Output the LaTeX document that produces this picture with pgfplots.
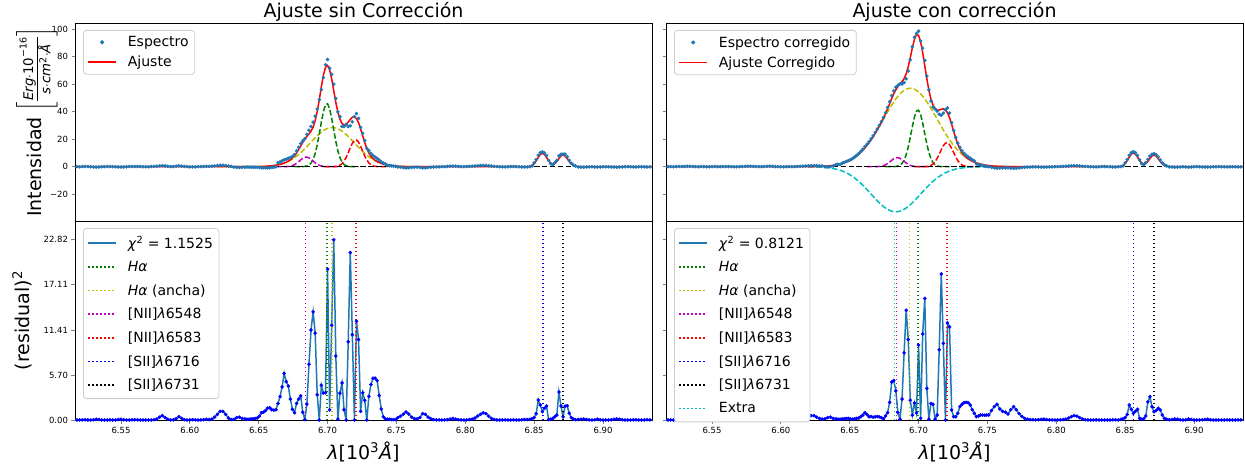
\RequirePackage{fix-cm}
\documentclass[border=0pt]{standalone}
\usepackage{amsmath}
\usepackage{fontspec}
\setmainfont{DejaVu Sans}
\usepackage{pgfplots}
\usepackage{pgfplotstable}
\pgfplotsset{compat=1.18}

\definecolor{C0}{HTML}{1F77B4}
\definecolor{mplg}{rgb}{0,0.5,0}
\definecolor{mply}{rgb}{0.75,0.75,0}
\definecolor{mplm}{rgb}{0.75,0,0.75}
\definecolor{mplc}{rgb}{0,0.75,0.75}
\definecolor{mplr}{rgb}{1,0,0}
\definecolor{mplb}{rgb}{0,0,1}
\definecolor{mplk}{rgb}{0,0,0}
\definecolor{legframe}{rgb}{0.8,0.8,0.8}

% spectrum, corrected spectrum, squared residuals and total fits
\pgfplotstableread{
x sL sR rL rR fL fR
6.516 0.10 0.10 0.01 0.01 0 0
6.518 0.05 0.05 0.00 0.00 0 0
6.520 -0.10 0.08 0.01 0.01 0 0
6.522 0.15 -0.05 0.02 0.00 0 0
6.524 0.20 0.10 0.04 0.01 0 0
6.526 0.10 0.15 0.01 0.02 0 0
6.528 -0.05 0.10 0.00 0.01 0 0
6.530 -0.20 0.20 0.04 0.04 0 0
6.532 -0.30 0.30 0.09 0.09 0 0
6.534 -0.25 0.25 0.06 0.06 0 0
6.536 -0.10 0.15 0.01 0.02 0 0
6.538 0.05 0.05 0.00 0.00 0 0
6.540 0.10 -0.05 0.01 0.00 0 0
6.542 0.15 0.10 0.02 0.01 0 0
6.544 0.05 0.05 0.00 0.00 0 0
6.546 -0.10 -0.10 0.01 0.01 0 0
6.548 -0.25 -0.05 0.06 0.00 0 0
6.550 -0.30 0.05 0.09 0.00 0 0
6.552 -0.20 0.10 0.04 0.01 0 0
6.554 0.00 0.05 0.00 0.00 0 0
6.556 0.10 0.05 0.01 0.00 0 0
6.558 0.15 0.10 0.02 0.01 0 0
6.560 0.20 0.15 0.04 0.02 0 0
6.562 0.15 0.10 0.02 0.01 0 0
6.564 0.10 0.05 0.01 0.00 0 0
6.566 0.00 0.00 0.00 0.00 0 0
6.568 -0.10 -0.05 0.01 0.00 0 0
6.570 -0.05 0.05 0.00 0.00 0 0
6.572 0.10 0.15 0.01 0.02 0 0
6.574 0.20 0.25 0.04 0.06 0 0
6.576 0.35 0.30 0.12 0.09 0 0
6.578 0.60 0.35 0.36 0.12 0 0
6.580 0.75 0.25 0.56 0.06 0 0
6.582 0.55 0.15 0.30 0.02 0 0
6.584 0.30 0.10 0.09 0.01 0 0
6.586 0.10 0.05 0.01 0.00 0 0
6.588 0.15 0.15 0.02 0.02 0 0
6.590 0.40 0.30 0.16 0.09 0 0
6.592 0.65 0.35 0.42 0.12 0 0
6.594 0.45 0.25 0.20 0.06 0 0
6.596 0.20 0.10 0.04 0.01 0 0
6.598 0.05 0.05 0.00 0.00 0 0
6.600 -0.10 -0.05 0.01 0.00 0 0
6.602 -0.20 -0.10 0.04 0.01 0 0
6.604 -0.15 0.05 0.02 0.00 0 0
6.606 0.00 0.10 0.00 0.01 0 0
6.608 0.10 0.05 0.01 0.00 0 0
6.610 0.20 0.10 0.04 0.01 0 0
6.612 0.30 0.20 0.09 0.04 0 0
6.614 0.25 0.26 0.06 0.06 0 0.01
6.616 0.35 0.37 0.12 0.12 0 0.02
6.618 0.60 0.53 0.36 0.25 0 0.03
6.620 0.85 0.69 0.72 0.42 0 0.04
6.622 1.05 0.81 1.10 0.56 0 0.06
6.624 1.05 0.84 1.10 0.56 0 0.09
6.626 0.85 0.73 0.72 0.36 0 0.13
6.628 0.50 0.64 0.25 0.20 0 0.19
6.630 0.25 0.61 0.06 0.12 0 0.26
6.632 -0.30 -0.04 0.09 0.16 0 0.36
6.634 -0.55 -0.05 0.30 0.30 0 0.50
6.636 -0.60 0.08 0.36 0.36 0 0.68
6.638 -0.45 0.47 0.20 0.20 0 0.92
6.6400 -0.38 1.62 0.15 0.15 0.01 1.23
6.6415 -0.30 1.84 0.10 0.10 0.02 1.52
6.6430 -0.30 1.54 0.10 0.10 0.02 1.86
6.6445 -0.36 2.66 0.15 0.15 0.03 2.27
6.6460 -0.35 3.14 0.15 0.15 0.04 2.75
6.6475 -0.39 3.77 0.20 0.20 0.06 3.32
6.6490 -0.41 4.42 0.25 0.20 0.09 3.97
6.6505 -0.59 5.12 0.50 0.15 0.12 4.73
6.6520 -0.80 5.92 0.93 0.10 0.16 5.60
6.6535 -0.78 6.98 1.00 0.15 0.22 6.59
6.6550 -0.81 8.16 1.20 0.20 0.29 7.71
6.6565 -0.84 9.47 1.50 0.25 0.38 8.97
6.6580 -0.75 11.00 1.56 0.40 0.50 10.37
6.6595 -0.49 12.68 1.30 0.60 0.65 11.91
6.6610 -0.28 14.58 1.25 0.93 0.84 13.62
6.6625 -0.07 16.30 1.30 0.70 1.07 15.46
6.6640 2.80 18.09 2.10 0.40 1.35 17.46
6.6655 3.42 20.26 2.96 0.45 1.70 19.59
6.6670 4.17 22.45 4.20 0.35 2.12 21.86
6.6685 5.06 24.90 5.90 0.40 2.63 24.27
6.6700 5.45 27.48 4.86 0.45 3.25 26.81
6.6715 6.11 30.09 4.30 0.40 4.04 29.46
6.6730 6.66 32.84 2.65 0.30 5.03 32.29
6.6745 7.47 35.71 1.35 0.15 6.31 35.32
6.6760 8.93 39.32 0.93 0.50 7.97 38.61
6.6775 11.48 43.09 2.10 0.93 10.03 42.13
6.6790 14.09 47.32 2.65 2.24 12.46 45.82
6.6805 16.84 51.70 3.05 4.80 15.09 49.51
6.6820 18.71 55.23 0.98 5.00 17.72 52.99
6.6835 20.30 57.85 0.05 3.70 20.08 55.93
6.6850 23.46 59.19 2.00 0.93 22.05 58.23
6.6865 26.47 60.37 7.06 0.10 23.81 60.05
6.6880 29.19 60.14 11.40 2.65 25.81 61.77
6.6895 32.45 61.13 13.70 8.50 28.75 64.05
6.6910 36.72 63.85 11.00 13.90 33.40 67.58
6.6925 41.93 69.56 3.20 10.20 40.14 72.75
6.6940 48.75 77.77 0.00 2.50 48.75 79.35
6.6955 56.07 87.29 4.40 0.63 58.17 86.50
6.6970 64.80 94.09 3.40 2.15 66.64 92.62
6.6985 74.11 96.95 3.45 0.90 72.25 96.00
6.7000 77.98 98.57 19.10 9.50 73.61 95.49
6.7015 71.59 91.26 1.27 0.20 70.46 90.81
6.7030 67.24 86.23 12.00 10.90 63.78 82.93
6.7045 60.04 77.31 22.82 15.40 55.26 73.39
6.7060 49.60 65.87 8.10 4.00 46.75 63.87
6.7075 39.91 55.91 0.10 0.10 39.59 55.59
6.7090 36.30 47.78 3.40 2.10 34.46 49.23
6.7105 29.29 43.43 4.70 2.00 31.46 44.84
6.7120 29.23 41.95 1.30 0.10 30.37 42.27
6.7135 30.83 40.41 0.00 0.63 30.83 41.20
6.7150 29.22 38.22 9.90 8.90 32.37 41.20
6.7165 29.76 37.44 21.20 18.50 34.36 41.74
6.7180 32.67 38.94 10.80 9.70 35.96 42.05
6.7195 36.37 41.36 0.00 0.00 36.37 41.36
6.7210 38.60 42.76 12.50 12.30 35.06 39.25
6.7225 35.15 39.08 10.20 11.80 31.96 35.64
6.7240 28.54 32.01 1.10 1.27 27.49 30.88
6.7255 24.27 26.29 3.45 0.42 22.41 25.64
6.7270 19.07 21.27 2.50 0.42 17.49 20.62
6.7285 13.27 17.19 0.00 0.85 13.27 16.27
6.7300 11.71 14.14 3.00 1.69 9.98 12.84
6.7315 9.69 11.65 4.50 2.00 7.57 10.24
6.7330 8.17 9.78 5.30 2.20 5.87 8.30
6.7345 6.94 8.34 5.30 2.24 4.64 6.84
6.7360 5.97 7.18 5.00 2.20 3.73 5.70
6.7375 4.78 6.15 3.10 1.90 3.02 4.77
6.7390 3.61 5.11 1.40 1.30 2.43 3.97
6.7405 2.60 4.24 0.40 0.85 1.97 3.32
6.7420 1.97 2.10 0.15 0.42 1.58 2.75
6.7435 0.93 1.56 0.10 0.50 1.25 2.27
6.7450 0.67 1.07 0.10 0.63 0.99 1.86
6.7465 0.55 0.73 0.05 0.63 0.77 1.52
6.7480 0.38 0.46 0.05 0.60 0.60 1.23
6.7495 0.24 0.20 0.05 0.63 0.46 0.99
6.751 -0.20 0.01 0.30 0.63 0.35 0.80
6.753 -0.45 -0.51 0.48 1.20 0.24 0.59
6.755 -0.70 -0.87 0.74 1.70 0.16 0.43
6.757 -0.90 -1.10 1.02 2.00 0.11 0.31
6.759 -0.80 -0.96 0.76 1.40 0.07 0.22
6.761 -0.55 -0.89 0.36 1.10 0.05 0.16
6.763 -0.40 -0.89 0.18 1.00 0.03 0.11
6.765 -0.35 -0.80 0.14 0.76 0.02 0.07
6.767 -0.55 -1.09 0.31 1.30 0.01 0.05
6.769 -0.90 -1.27 0.81 1.69 0 0.03
6.771 -0.85 -1.12 0.72 1.30 0 0.02
6.773 -0.60 -0.89 0.36 0.80 0 0
6.775 -0.40 -0.67 0.16 0.45 0 0
6.777 -0.25 -0.45 0.06 0.20 0 0
6.779 -0.15 -0.32 0.02 0.10 0 0
6.781 -0.10 -0.25 0.01 0.06 0 0
6.783 0.05 -0.20 0.00 0.04 0 0
6.785 0.10 -0.15 0.01 0.02 0 0
6.787 0.20 -0.20 0.04 0.04 0 0
6.789 0.35 -0.30 0.12 0.09 0 0
6.791 0.45 -0.35 0.20 0.12 0 0
6.793 0.35 -0.25 0.12 0.06 0 0
6.795 0.20 -0.15 0.04 0.02 0 0
6.797 0.10 -0.10 0.01 0.01 0 0
6.799 0.05 0.00 0.00 0.00 0 0
6.801 0.15 0.10 0.02 0.01 0 0
6.803 0.25 0.15 0.06 0.02 0 0
6.805 0.35 0.25 0.12 0.06 0 0
6.807 0.50 0.35 0.25 0.12 0 0
6.809 0.70 0.50 0.49 0.25 0 0
6.811 0.85 0.65 0.72 0.42 0 0
6.813 0.95 0.75 0.90 0.56 0 0
6.815 0.90 0.70 0.81 0.49 0 0
6.817 0.70 0.55 0.49 0.30 0 0
6.819 0.45 0.35 0.20 0.12 0 0
6.821 0.25 0.20 0.06 0.04 0 0
6.823 0.10 0.10 0.01 0.01 0 0
6.825 0.00 0.00 0.00 0.00 0 0
6.827 -0.10 -0.10 0.01 0.01 0 0
6.829 -0.15 -0.15 0.02 0.02 0 0
6.831 -0.05 -0.05 0.00 0.00 0 0
6.833 0.10 0.10 0.01 0.01 0 0
6.835 0.15 0.10 0.02 0.01 0 0
6.837 0.05 0.05 0.00 0.00 0 0
6.839 -0.10 -0.10 0.01 0.01 0 0
6.841 -0.20 -0.15 0.04 0.02 0 0
6.843 -0.25 -0.19 0.07 0.04 0.01 0.01
6.845 -0.15 -0.03 0.05 0.01 0.07 0.07
6.8470 0.04 0.05 0.10 0.10 0.36 0.37
6.8485 0.59 0.62 0.15 0.15 0.98 1.01
6.8500 2.78 2.85 0.30 0.30 2.23 2.30
6.8515 5.13 5.22 0.80 0.70 4.24 4.38
6.8530 8.31 8.31 2.53 1.90 6.72 6.93
6.8545 10.23 10.28 1.90 1.35 8.85 9.12
6.8560 10.72 10.92 1.05 0.85 9.70 10.00
6.8575 10.07 10.17 1.48 1.10 8.85 9.12
6.8590 8.07 8.11 1.77 1.35 6.74 6.95
6.8605 4.55 4.92 0.05 0.20 4.33 4.47
6.8620 2.22 2.29 0.10 0.10 2.54 2.61
6.8635 1.39 1.48 0.20 0.15 1.84 1.87
6.8650 2.95 3.04 0.40 0.50 2.32 2.33
6.8665 4.62 5.35 0.63 2.30 3.83 3.83
6.8680 7.80 7.64 3.55 2.95 5.92 5.92
6.8695 9.08 9.05 1.77 1.69 7.75 7.75
6.8710 9.13 9.52 0.40 1.05 8.50 8.50
6.8725 9.08 8.85 1.77 1.20 7.75 7.75
6.8740 7.23 7.11 1.80 1.48 5.89 5.89
6.8755 4.64 4.85 0.85 1.27 3.72 3.72
6.8770 2.51 2.75 0.30 0.63 1.96 1.96
6.8785 1.18 1.31 0.10 0.20 0.86 0.86
6.8800 0.53 0.63 0.05 0.10 0.31 0.31
6.882 -0.20 -0.15 0.07 0.04 0.06 0.06
6.884 -0.30 -0.25 0.10 0.07 0.01 0.01
6.886 -0.35 -0.35 0.12 0.12 0 0
6.888 -0.25 -0.30 0.06 0.09 0 0
6.890 -0.15 -0.20 0.02 0.04 0 0
6.892 -0.10 -0.10 0.01 0.01 0 0
6.894 -0.20 -0.15 0.04 0.02 0 0
6.896 -0.30 -0.35 0.09 0.12 0 0
6.898 -0.20 -0.25 0.04 0.06 0 0
6.900 -0.10 -0.10 0.01 0.01 0 0
6.902 0.00 0.05 0.00 0.00 0 0
6.904 -0.10 -0.05 0.01 0.00 0 0
6.906 -0.20 -0.15 0.04 0.02 0 0
6.908 -0.30 -0.25 0.09 0.06 0 0
6.910 -0.35 -0.30 0.12 0.09 0 0
6.912 -0.30 -0.20 0.09 0.04 0 0
6.914 -0.15 -0.10 0.02 0.01 0 0
6.916 -0.05 0.00 0.00 0.00 0 0
6.918 0.05 0.05 0.00 0.00 0 0
6.920 -0.05 -0.05 0.00 0.00 0 0
6.922 -0.15 -0.10 0.02 0.01 0 0
6.924 -0.20 -0.15 0.04 0.02 0 0
6.926 -0.10 -0.10 0.01 0.01 0 0
6.928 0.00 0.00 0.00 0.00 0 0
6.930 -0.10 -0.10 0.01 0.01 0 0
6.932 -0.20 -0.15 0.04 0.02 0 0
6.934 -0.15 -0.10 0.02 0.01 0 0
6.936 -0.10 -0.05 0.01 0.00 0 0
}\spec

% fitted components
\pgfplotstableread{
x gNL gBL n1L n2L gNR gBR n1R n2R ex
6.620 0 0 0 0 0 0.04 0 0 -0.07
6.625 0 0 0 0 0 0.11 0 0 -0.17
6.630 0 0 0 0 0 0.26 0 0 -0.40
6.635 0 0 0 0 0 0.59 0 0 -0.87
6.6400 0 0.01 0 0 0 1.23 0 0 -1.77
6.6415 0 0.02 0 0 0 1.52 0 0 -2.16
6.6430 0 0.02 0 0 0 1.86 0 0 -2.61
6.6445 0 0.03 0 0 0 2.27 0 0 -3.14
6.6460 0 0.04 0 0 0 2.75 0 0 -3.75
6.6475 0 0.06 0 0 0 3.32 0 0 -4.44
6.6490 0 0.09 0 0 0 3.97 0 0 -5.22
6.6505 0 0.12 0 0 0 4.73 0 0 -6.11
6.6520 0 0.16 0 0 0 5.60 0 0 -7.09
6.6535 0 0.22 0 0 0 6.59 0 0 -8.18
6.6550 0 0.29 0 0 0 7.71 0 0 -9.37
6.6565 0 0.38 0 0 0 8.97 0 0 -10.65
6.6580 0 0.50 0 0 0 10.37 0 0 -12.03
6.6595 0 0.65 0 0 0 11.91 0 0 -13.48
6.6610 0 0.84 0 0 0 13.62 0 0 -15.02
6.6625 0 1.07 0 0 0 15.46 0 0 -16.61
6.6640 0 1.35 0 0 0 17.46 0 0 -18.24
6.6655 0 1.70 0 0 0 19.59 0 0 -19.89
6.6670 0 2.11 0.01 0 0 21.85 0.01 0 -21.55
6.6685 0 2.60 0.03 0 0 24.24 0.03 0 -23.18
6.6700 0 3.18 0.07 0 0 26.74 0.07 0 -24.76
6.6715 0 3.86 0.18 0 0 29.29 0.17 0 -26.26
6.6730 0 4.63 0.40 0 0 31.91 0.38 0 -27.67
6.6745 0 5.51 0.80 0 0 34.57 0.75 0 -28.95
6.6760 0 6.51 1.46 0 0 37.23 1.38 0 -30.07
6.6775 0 7.61 2.42 0 0 39.85 2.28 0 -31.03
6.6790 0 8.83 3.63 0 0 42.40 3.42 0 -31.79
6.6805 0 10.14 4.95 0 0 44.84 4.67 0 -32.35
6.6820 0.06 11.55 6.11 0 0.05 47.18 5.76 0 -32.69
6.6835 0.18 13.05 6.85 0 0.16 49.31 6.46 0 -32.80
6.6850 0.48 14.61 6.96 0 0.43 51.24 6.56 0 -32.69
6.6865 1.18 16.21 6.42 0 1.06 52.94 6.05 0 -32.35
6.6880 2.61 17.83 5.37 0 2.34 54.37 5.06 0 -31.79
6.6895 5.25 19.43 4.07 0 4.71 55.50 3.84 0 -31.03
6.6910 9.59 21.01 2.80 0 8.61 56.33 2.64 0 -30.07
6.6925 15.89 22.50 1.75 0 14.27 56.83 1.65 0 -28.95
6.6940 23.86 23.90 0.99 0 21.42 57.00 0.93 0 -27.67
6.6955 32.51 25.15 0.51 0 29.19 56.83 0.48 0 -26.26
6.6970 40.16 26.24 0.24 0 36.06 56.33 0.23 0 -24.76
6.6985 45.01 27.14 0.10 0 40.41 55.50 0.09 0 -23.18
6.7000 45.75 27.82 0.04 0 41.08 54.37 0.04 0 -21.55
6.7015 42.17 28.28 0.01 0 37.86 52.94 0.01 0 -19.89
6.7030 35.26 28.49 0 0.03 31.66 51.24 0 0.03 -18.24
6.7045 26.74 28.44 0 0.08 24.01 49.31 0 0.07 -16.61
6.7060 18.39 28.16 0 0.20 16.51 47.18 0 0.18 -15.02
6.7075 11.47 27.62 0 0.50 10.30 44.84 0 0.45 -13.48
6.7090 6.49 26.86 0 1.11 5.83 42.40 0 1.00 -12.03
6.7105 3.33 25.90 0 2.23 2.99 39.85 0 2.00 -10.65
6.7120 1.55 24.75 0 4.07 1.39 37.23 0 3.65 -9.37
6.7135 0.65 23.44 0 6.74 0.58 34.57 0 6.05 -8.18
6.7150 0.25 22.01 0 10.11 0.22 31.91 0 9.07 -7.09
6.7165 0.09 20.49 0 13.78 0.08 29.29 0 12.37 -6.11
6.7180 0.03 18.90 0 17.03 0.03 26.74 0 15.28 -5.22
6.7195 0 17.29 0 19.08 0 24.24 0 17.12 -4.44
6.7210 0 15.67 0 19.39 0 21.85 0 17.40 -3.75
6.7225 0 14.08 0 17.88 0 19.59 0 16.05 -3.14
6.7240 0 12.54 0 14.95 0 17.46 0 13.42 -2.61
6.7255 0 11.07 0 11.34 0 15.46 0 10.18 -2.16
6.7270 0 9.69 0 7.80 0 13.62 0 7.00 -1.77
6.7285 0 8.41 0 4.86 0 11.91 0 4.36 -1.44
6.7300 0 7.23 0 2.75 0 10.37 0 2.47 -1.17
6.7315 0 6.16 0 1.41 0 8.97 0 1.27 -0.94
6.7330 0 5.21 0 0.66 0 7.71 0 0.59 -0.75
6.7345 0 4.36 0 0.28 0 6.59 0 0.25 -0.59
6.7360 0 3.62 0 0.11 0 5.60 0 0.10 -0.47
6.7375 0 2.98 0 0.04 0 4.73 0 0.04 -0.36
6.7390 0 2.43 0 0 0 3.97 0 0 -0.28
6.7405 0 1.97 0 0 0 3.32 0 0 -0.22
6.7420 0 1.58 0 0 0 2.75 0 0 -0.17
6.7435 0 1.25 0 0 0 2.27 0 0 -0.13
6.7450 0 0.99 0 0 0 1.86 0 0 -0.10
6.7465 0 0.77 0 0 0 1.52 0 0 -0.07
6.7480 0 0.60 0 0 0 1.23 0 0 -0.05
6.7495 0 0.46 0 0 0 0.99 0 0 -0.04
6.755 0 0.16 0 0 0 0.43 0 0 -0.01
6.760 0 0.06 0 0 0 0.19 0 0 0
6.765 0 0.02 0 0 0 0.07 0 0 0
6.770 0 0.01 0 0 0 0.03 0 0 0
}\comp

\pgfplotsset{
  dsh/.style={line width=1.5pt, dash pattern=on 5.5pt off 2.4pt},
  dtt/.style={line width=1.5pt, dash pattern=on 1.5pt off 2.5pt},
  basepan/.style={scale only axis, width=577pt, xmin=6.5166, xmax=6.9356,
    axis line style={line width=0.8pt},
    major tick length=3.5pt, tick align=outside, tick pos=left,
    major tick style={line width=0.8pt},
    ticklabel style={font=\fontsize{8.5}{10}\selectfont},
    legend cell align=left,
    legend image code/.code={\draw[mark repeat=2,mark phase=2,##1] plot coordinates {(0pt,0pt) (14pt,0pt) (28pt,0pt)};},
    legend style={at={(axis description cs:0,1)}, anchor=north west,
      xshift=8pt, yshift=-7pt, draw=legframe, line width=0.8pt,
      rounded corners=3pt, fill=white,
      font=\fontsize{14}{16}\selectfont,
      inner xsep=4pt, inner ysep=4pt, column sep=9pt,
      nodes={inner sep=2pt}},
    every axis title/.style={at={(axis description cs:0.5,1)}, anchor=base,
      yshift=5pt, font=\fontsize{19}{23}\selectfont},
    every axis y label/.style={rotate=90, anchor=center,
      font=\fontsize{19}{23}\selectfont},
    every axis x label/.style={at={(axis description cs:0.5,-0.1608)},
      anchor=center, font=\fontsize{19}{23}\selectfont},
  },
  toppan/.style={basepan, height=198pt, ymin=-39.5, ymax=104.5,
    ytick={-20,0,20,40,60,80,100}, xtick=\empty,
    legend style={row sep=4pt}},
  botpan/.style={basepan, height=199pt, ymin=0, ymax=25.2,
    ytick={0,5.705,11.41,17.115,22.82},
    xtick={6.55,6.6,6.65,6.7,6.75,6.8,6.85,6.9},
    xticklabels={6.55,6.60,6.65,6.70,6.75,6.80,6.85,6.90},
    xlabel={\textit{λ}[10\textsuperscript{3}\textit{Å}]},
    legend style={row sep=7.5pt, inner ysep=5.5pt}},
}

\begin{document}
\begin{tikzpicture}
\useasboundingbox (0pt,0pt) rectangle (1245pt,467pt);

% ---------- top left ----------
\begin{axis}[toppan, at={(75pt,246pt)}, anchor=south west,
  yticklabels={−20,0,20,40,60,80,100},
  title={Ajuste sin Corrección},
  ylabel={Intensidad $\left[\frac{\textit{Erg}\cdot\text{10}^{\text{−16}}}{\textit{s}\cdot\textit{cm}^{\text{2}}\cdot\textit{Å}}\right]$},
  ylabel style={at={(axis description cs:-0.0659,0.5)}}]
\addplot[mply, dsh, forget plot] table[x=x,y=gBL] {\comp};
\addplot[mplg, dsh, forget plot, restrict x to domain=6.676:6.723] table[x=x,y=gNL] {\comp};
\addplot[mplm, dsh, forget plot, restrict x to domain=6.662:6.708] table[x=x,y=n1L] {\comp};
\addplot[mplr, dsh, forget plot, restrict x to domain=6.697:6.744] table[x=x,y=n2L] {\comp};
\addplot[mplk, dsh, forget plot] coordinates {(6.50,0) (6.95,0)};
\addplot[C0, only marks, mark=*, mark size=1.6pt, forget plot] table[x=x,y=sL] {\spec};
\addplot[mplr, line width=1.5pt, forget plot] table[x=x,y=fL] {\spec};
\addlegendimage{C0, only marks, mark=*, mark size=1.6pt}
\addlegendentry{Espectro}
\addlegendimage{mplr, line width=1.5pt}
\addlegendentry{Ajuste}
\end{axis}

% ---------- top right ----------
\begin{axis}[toppan, at={(666pt,246pt)}, anchor=south west,
  yticklabels={},
  title={Ajuste con corrección}]
\addplot[mply, dsh, forget plot] table[x=x,y=gBR] {\comp};
\addplot[mplg, dsh, forget plot, restrict x to domain=6.676:6.723] table[x=x,y=gNR] {\comp};
\addplot[mplm, dsh, forget plot, restrict x to domain=6.662:6.708] table[x=x,y=n1R] {\comp};
\addplot[mplr, dsh, forget plot, restrict x to domain=6.697:6.744] table[x=x,y=n2R] {\comp};
\addplot[mplc, dsh, forget plot] table[x=x,y=ex] {\comp};
\addplot[mplk, dsh, forget plot] coordinates {(6.50,0) (6.95,0)};
\addplot[C0, only marks, mark=*, mark size=1.6pt, forget plot] table[x=x,y=sR] {\spec};
\addplot[mplr, line width=1.5pt, forget plot] table[x=x,y=fR] {\spec};
\addlegendimage{C0, only marks, mark=*, mark size=1.6pt}
\addlegendentry{Espectro corregido}
\addlegendimage{mplr, line width=1.5pt}
\addlegendentry{Ajuste Corregido}
\end{axis}

% ---------- bottom left ----------
\begin{axis}[botpan, at={(75pt,47pt)}, anchor=south west,
  yticklabels={0.00,5.70,11.41,17.11,22.82},
  ylabel={(residual)\textsuperscript{2}},
  ylabel style={at={(axis description cs:-0.0919,0.5)}}]
\addplot[C0, line width=1.5pt, forget plot] table[x=x,y=rL] {\spec};
\addplot[mplg, dtt, forget plot] coordinates {(6.6996,0) (6.6996,25.2)};
\addplot[mply, dtt, forget plot] coordinates {(6.7034,0) (6.7034,25.2)};
\addplot[mplm, dtt, forget plot] coordinates {(6.6841,0) (6.6841,25.2)};
\addplot[mplr, dtt, forget plot] coordinates {(6.7207,0) (6.7207,25.2)};
\addplot[mplb, dtt, forget plot] coordinates {(6.8566,0) (6.8566,25.2)};
\addplot[mplk, dtt, forget plot] coordinates {(6.8711,0) (6.8711,25.2)};
\addplot[mplb, only marks, mark=*, mark size=1.6pt, forget plot] table[x=x,y=rL] {\spec};
\addlegendimage{C0, line width=1.5pt}
\addlegendentry{\textit{χ}\textsuperscript{2} = 1.1525}
\addlegendimage{mplg, dtt}
\addlegendentry{\textit{Hα}}
\addlegendimage{mply, dtt}
\addlegendentry{\textit{Hα} (ancha)}
\addlegendimage{mplm, dtt}
\addlegendentry{[NII]\textit{λ}6548}
\addlegendimage{mplr, dtt}
\addlegendentry{[NII]\textit{λ}6583}
\addlegendimage{mplb, dtt}
\addlegendentry{[SII]\textit{λ}6716}
\addlegendimage{mplk, dtt}
\addlegendentry{[SII]\textit{λ}6731}
\end{axis}

% ---------- bottom right ----------
\begin{axis}[botpan, at={(666pt,47pt)}, anchor=south west,
  yticklabels={}]
\addplot[C0, line width=1.5pt, forget plot] table[x=x,y=rR] {\spec};
\addplot[mplg, dtt, forget plot] coordinates {(6.6995,0) (6.6995,25.2)};
\addplot[mply, dtt, forget plot] coordinates {(6.6934,0) (6.6934,25.2)};
\addplot[mplm, dtt, forget plot] coordinates {(6.6840,0) (6.6840,25.2)};
\addplot[mplr, dtt, forget plot] coordinates {(6.7206,0) (6.7206,25.2)};
\addplot[mplb, dtt, forget plot] coordinates {(6.8562,0) (6.8562,25.2)};
\addplot[mplk, dtt, forget plot] coordinates {(6.8710,0) (6.8710,25.2)};
\addplot[mplc, dtt, forget plot] coordinates {(6.6827,0) (6.6827,25.2)};
\addplot[mplb, only marks, mark=*, mark size=1.6pt, forget plot] table[x=x,y=rR] {\spec};
\addlegendimage{C0, line width=1.5pt}
\addlegendentry{\textit{χ}\textsuperscript{2} = 0.8121}
\addlegendimage{mplg, dtt}
\addlegendentry{\textit{Hα}}
\addlegendimage{mply, dtt}
\addlegendentry{\textit{Hα} (ancha)}
\addlegendimage{mplm, dtt}
\addlegendentry{[NII]\textit{λ}6548}
\addlegendimage{mplr, dtt}
\addlegendentry{[NII]\textit{λ}6583}
\addlegendimage{mplb, dtt}
\addlegendentry{[SII]\textit{λ}6716}
\addlegendimage{mplk, dtt}
\addlegendentry{[SII]\textit{λ}6731}
\addlegendimage{mplc, dtt}
\addlegendentry{Extra}
\end{axis}
\end{tikzpicture}
\end{document}
